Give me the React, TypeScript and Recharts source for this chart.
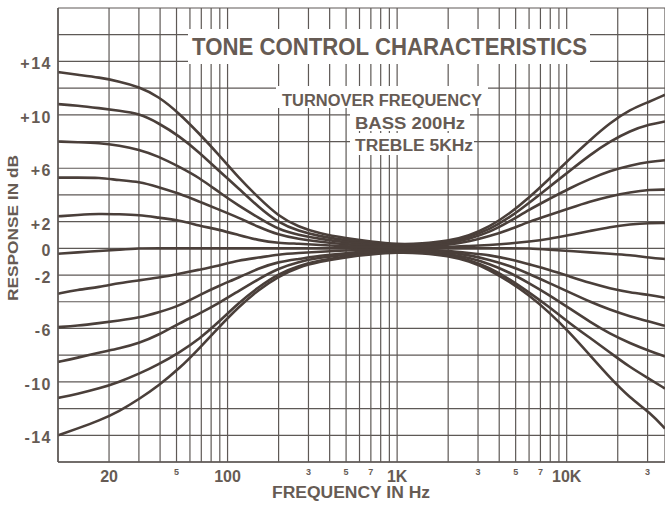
import React from 'react';
import { LineChart, Line, XAxis, YAxis, CartesianGrid } from 'recharts';

// Frequency sample points (Hz)
const FREQS = [10, 13, 17.5, 23, 30, 39, 52, 68, 89, 116, 152, 200, 262, 350, 500, 700, 1000, 1400, 2000, 2650, 3500, 4600, 6000, 7900, 10400, 13700, 18000, 23600, 31000, 38000];

// Response in dB for each control position (bass part + treble part)
const BOOST_MAX = [13.2, 13.0, 12.8, 12.5, 12.1, 11.4, 10.1, 8.6, 7.0, 5.3, 3.8, 2.4, 1.6, 1.1, 0.75, 0.5, 0.3, 0.35, 0.55, 0.95, 1.6, 2.6, 3.8, 5.2, 6.7, 8.1, 9.4, 10.4, 11.0, 11.5];
const BOOST_4 = [10.8, 10.7, 10.5, 10.3, 10.1, 9.4, 8.4, 7.2, 5.8, 4.5, 3.1, 1.9, 1.3, 0.9, 0.6, 0.4, 0.24, 0.28, 0.45, 0.85, 1.4, 2.3, 3.4, 4.6, 5.8, 7.0, 8.0, 8.8, 9.3, 9.5];
const BOOST_3 = [8.0, 7.95, 7.9, 7.7, 7.4, 6.9, 6.1, 5.3, 4.2, 3.2, 2.3, 1.4, 1.0, 0.7, 0.45, 0.3, 0.18, 0.2, 0.35, 0.7, 1.2, 2.0, 2.9, 3.7, 4.5, 5.2, 5.8, 6.2, 6.5, 6.6];
const BOOST_2 = [5.3, 5.3, 5.3, 5.1, 5.0, 4.6, 4.1, 3.5, 2.9, 2.3, 1.6, 1.0, 0.7, 0.5, 0.3, 0.2, 0.12, 0.13, 0.25, 0.5, 0.9, 1.4, 2.0, 2.5, 3.0, 3.5, 3.9, 4.2, 4.4, 4.4];
const BOOST_1 = [2.4, 2.5, 2.6, 2.55, 2.5, 2.3, 2.1, 1.7, 1.4, 1.0, 0.6, 0.4, 0.35, 0.25, 0.15, 0.1, 0.06, 0.07, 0.1, 0.18, 0.25, 0.35, 0.5, 0.7, 1.0, 1.3, 1.6, 1.8, 1.9, 1.9];
const FLAT = [-0.4, -0.3, -0.2, -0.1, 0, 0, 0, 0, 0, 0, 0, 0, 0, 0, 0, 0, 0, 0, 0, 0, 0, 0, 0, -0.1, -0.2, -0.3, -0.4, -0.5, -0.7, -0.8];
const CUT_1 = [-3.4, -3.1, -2.9, -2.6, -2.4, -2.2, -1.9, -1.6, -1.3, -0.9, -0.7, -0.45, -0.35, -0.25, -0.15, -0.1, -0.06, -0.08, -0.2, -0.35, -0.5, -0.8, -1.2, -1.6, -2.1, -2.6, -3.0, -3.3, -3.5, -3.7];
const CUT_2 = [-5.9, -5.8, -5.6, -5.4, -5.2, -4.8, -4.3, -3.5, -2.8, -2.2, -1.5, -1.0, -0.8, -0.55, -0.35, -0.22, -0.12, -0.16, -0.3, -0.5, -0.85, -1.3, -1.9, -2.6, -3.3, -4.0, -4.6, -5.1, -5.5, -5.8];
const CUT_3 = [-8.5, -8.2, -7.8, -7.5, -7.1, -6.5, -5.6, -4.9, -4.1, -3.2, -2.3, -1.5, -1.0, -0.7, -0.45, -0.3, -0.18, -0.22, -0.4, -0.7, -1.15, -1.8, -2.6, -3.5, -4.5, -5.5, -6.4, -7.1, -7.7, -8.1];
const CUT_4 = [-11.2, -10.9, -10.5, -10.0, -9.4, -8.7, -7.8, -6.8, -5.5, -4.1, -2.9, -1.9, -1.3, -0.9, -0.6, -0.4, -0.24, -0.3, -0.5, -0.85, -1.45, -2.3, -3.3, -4.4, -5.6, -6.7, -7.8, -8.9, -9.8, -10.5];
const CUT_MAX = [-14.0, -13.5, -12.9, -12.2, -11.3, -10.3, -9.0, -7.5, -5.9, -4.4, -3.1, -2.1, -1.4, -1.0, -0.65, -0.45, -0.3, -0.35, -0.55, -0.95, -1.6, -2.5, -3.5, -4.8, -6.3, -8.0, -9.7, -11.2, -12.3, -13.5];

const CURVES = [BOOST_MAX, BOOST_4, BOOST_3, BOOST_2, BOOST_1, FLAT, CUT_1, CUT_2, CUT_3, CUT_4, CUT_MAX];

// Grid / tick positions
const X_GRID = [10, 20, 30, 40, 50, 60, 70, 80, 90, 100, 200, 300, 400, 500, 600, 700, 800, 900, 1000, 2000, 3000, 4000, 5000, 6000, 7000, 8000, 9000, 10000, 20000, 30000];
const Y_GRID = [-16, -14, -12, -10, -8, -6, -4, -2, 0, 2, 4, 6, 8, 10, 12, 14, 16, 18];

const X_BIG_VALUES = [20, 100, 1000, 10000];
const X_BIG_TEXT = ['20', '100', '1K', '10K'];
const X_SMALL_VALUES = [50, 300, 500, 700, 3000, 5000, 7000, 30000];
const X_SMALL_TEXT = ['5', '3', '5', '7', '3', '5', '7', '3'];

const Y_LABEL_VALUES = [14, 10, 6, 2, 0, -2, -6, -10, -14];
const Y_LABEL_TEXT = ['+14', '+10', '+6', '+2', '0', '-2', '-6', '-10', '-14'];

const TITLE = 'TONE CONTROL CHARACTERISTICS';
const SUB1 = 'TURNOVER FREQUENCY';
const SUB2 = 'BASS 200Hz';
const SUB3 = 'TREBLE 5KHz';
const X_TITLE = 'FREQUENCY IN Hz';
const Y_TITLE = 'RESPONSE IN dB';

const TEXT_COLOR = '#665b54';
const GRID_COLOR = '#5e5956';
const CURVE_COLOR = '#4a3f3a';
const FONT = '"Liberation Sans", Arial, sans-serif';

const XTick = (props: any) => {
  const { x, y, payload } = props;
  const v = payload.value;
  const bi = X_BIG_VALUES.indexOf(v);
  if (bi >= 0) {
    return (
      <text x={x} y={y + 20} textAnchor="middle" fontFamily={FONT} fontSize={16} fontWeight={600} fill={TEXT_COLOR}>
        {X_BIG_TEXT[bi]}
      </text>
    );
  }
  const si = X_SMALL_VALUES.indexOf(v);
  if (si >= 0) {
    return (
      <text x={x} y={y + 13} textAnchor="middle" fontFamily={FONT} fontSize={9} fontWeight={600} fill={TEXT_COLOR}>
        {X_SMALL_TEXT[si]}
      </text>
    );
  }
  return null;
};

const YTick = (props: any) => {
  const { x, y, payload } = props;
  const i = Y_LABEL_VALUES.indexOf(payload.value);
  if (i < 0) return null;
  return (
    <text x={x - 6} y={y + 8} textAnchor="end" fontFamily={FONT} fontSize={16} fontWeight={700} fill={TEXT_COLOR} letterSpacing={1.5}>
      {Y_LABEL_TEXT[i]}
    </text>
  );
};

export default function App() {
  return (
    <div style={{ position: 'absolute', left: 0, top: 0, width: 665, height: 506, background: '#fff' }}>
      <LineChart width={665} height={506} margin={{ top: 8, right: 0, bottom: 0, left: 0 }}>
        <CartesianGrid stroke={GRID_COLOR} strokeWidth={1.2} />
        <XAxis
          dataKey="f"
          type="number"
          scale="log"
          domain={[10, 38000]}
          allowDataOverflow
          ticks={X_GRID}
          interval={0}
          height={44}
          tickSize={0}
          tickMargin={0}
          tick={<XTick />}
          axisLine={{ stroke: GRID_COLOR, strokeWidth: 1.5 }}
        />
        <YAxis
          type="number"
          domain={[-16, 18]}
          ticks={Y_GRID}
          interval={0}
          width={58}
          tickSize={0}
          tickMargin={0}
          tick={<YTick />}
          axisLine={{ stroke: GRID_COLOR, strokeWidth: 1.5 }}
        />
        {CURVES.map((c, k) => (
          <Line
            key={k}
            data={FREQS.map((f, i) => ({ f, v: c[i] }))}
            dataKey="v"
            type="basis"
            dot={false}
            stroke={CURVE_COLOR}
            strokeWidth={2.6}
            isAnimationActive={false}
          />
        ))}
      </LineChart>
      <svg width={665} height={506} style={{ position: 'absolute', left: 0, top: 0, pointerEvents: 'none' }}>
        <rect x={188} y={29} width={402} height={35} fill="#fff" />
        <text x={192} y={55} fontFamily={FONT} fontSize={23} fontWeight={700} fill={TEXT_COLOR} textLength={395} lengthAdjust="spacingAndGlyphs">{TITLE}</text>
        <rect x={276} y={86} width={212} height={22} fill="#fff" />
        <text x={282} y={106} fontFamily={FONT} fontSize={16} fontWeight={700} fill={TEXT_COLOR} textLength={200} lengthAdjust="spacingAndGlyphs">{SUB1}</text>
        <rect x={350} y={108} width={120} height={23} fill="#fff" />
        <text x={355} y={129} fontFamily={FONT} fontSize={16} fontWeight={700} fill={TEXT_COLOR} textLength={110} lengthAdjust="spacingAndGlyphs">{SUB2}</text>
        <rect x={350} y={133} width={124} height={22} fill="#fff" />
        <text x={355} y={151} fontFamily={FONT} fontSize={16} fontWeight={700} fill={TEXT_COLOR} textLength={118} lengthAdjust="spacingAndGlyphs">{SUB3}</text>
        <text x={351} y={498} textAnchor="middle" fontFamily={FONT} fontSize={16} fontWeight={700} fill={TEXT_COLOR} textLength={158} lengthAdjust="spacingAndGlyphs">{X_TITLE}</text>
        <text x={0} y={0} transform="translate(18,228) rotate(-90)" textAnchor="middle" fontFamily={FONT} fontSize={15} fontWeight={700} fill={TEXT_COLOR} textLength={146} lengthAdjust="spacingAndGlyphs">{Y_TITLE}</text>
      </svg>
    </div>
  );
}
